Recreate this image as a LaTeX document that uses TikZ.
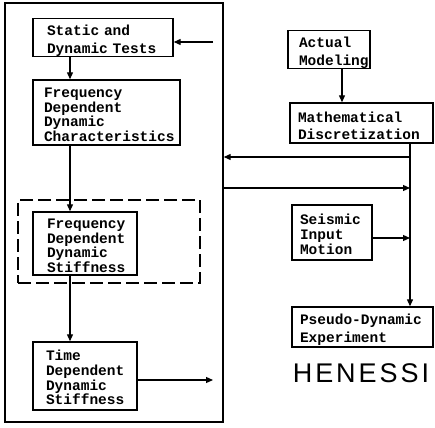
\documentclass[tikz,border=0pt]{standalone}
\usepackage{fontspec}
\usetikzlibrary{arrows.meta}
\newfontfamily\boxfontfam{Liberation Mono}
\newfontfamily\hfont[LetterSpace=11]{Liberation Sans}
\newcommand\dnstrut{\rule{0pt}{17pt}}
\newcommand\dnstrutb{\rule{0pt}{14pt}}
\tikzset{
  bx/.style={draw, line width=1.4pt, align=left, inner ysep=0pt,
    font=\boxfontfam\bfseries\fontsize{14.5}{15}\selectfont},
  arr/.style={line width=1.2pt, -{Triangle[length=7pt,width=6pt]}},
  ln/.style={line width=1.2pt}
}
\begin{document}
\begin{tikzpicture}[x=1pt,y=-1pt]
\useasboundingbox (0,0) rectangle (435,427);
% outer frame
\node[draw, line width=1.4pt, minimum width=218, minimum height=419, inner sep=0pt] (outer) at (114,212.5) {};
% dashed box
\node[draw, line width=1.4pt, dash pattern=on 13pt off 5pt, minimum width=182, minimum height=83, inner sep=0pt] (dash) at (109,241.5) {};
% left boxes
\node[bx, inner xsep=14pt, text width=112pt, minimum width=140, minimum height=35] (b1) at (103,37.5) {\dnstrut Static and\\[3pt]Dynamic Tests};
\node[bx, inner xsep=11pt, text width=125pt, minimum width=147, minimum height=65] (b2) at (106.5,112.5) {\dnstrutb Frequency\\[-0.3pt]Dependent\\[-0.3pt]Dynamic\\[-0.3pt]Characteristics};
\node[bx, inner xsep=14pt, text width=76pt, minimum width=104, minimum height=63] (b3) at (85,243.5) {\dnstrutb Frequency\\[-0.3pt]Dependent\\[-0.3pt]Dynamic\\[-0.3pt]Stiffness};
\node[bx, inner xsep=13pt, text width=78pt, minimum width=104, minimum height=68] (b4) at (85,376) {\dnstrutb Time\\[-0.3pt]Dependent\\[-0.3pt]Dynamic\\[-0.3pt]Stiffness};
% right boxes
\node[bx, inner xsep=11pt, text width=60pt, minimum width=82, minimum height=35] (am) at (329,49.5) {\dnstrut Actual\\[3pt]Modeling};
\node[bx, inner xsep=8pt, text width=127pt, minimum width=143, minimum height=40] (md) at (361.5,123) {\dnstrut Mathematical\\[2pt]Discretization};
\node[bx, inner xsep=8pt, text width=64pt, minimum width=80, minimum height=55] (sm) at (332,232.5) {\dnstrutb Seismic\\Input\\Motion};
\node[bx, inner xsep=8pt, text width=125pt, minimum width=141, minimum height=40] (pd) at (362.5,327) {\dnstrut Pseudo-Dynamic\\[3pt]Experiment};
\node[font=\hfont\fontsize{27}{30}\selectfont, inner sep=0pt] (hen) at (361,373) {HENESSI};
% coordinates
\coordinate (cx) at (70,0);
\coordinate (inA) at (213,42);
\coordinate (outc) at (213,380);
\coordinate (ax) at (342,0);
\coordinate (rx) at (410,0);
\coordinate (j1) at (410,157);
\coordinate (j2) at (410,188);
\coordinate (j3) at (410,238);
% connectors
\draw[arr] (inA) -- (inA -| b1.east);
\draw[arr] (b1.south -| cx) -- (b2.north -| cx);
\draw[arr] (b2.south -| cx) -- (b3.north -| cx);
\draw[arr] (b3.south -| cx) -- (b4.north -| cx);
\draw[arr] (b4.east |- outc) -- (outc);
\draw[arr] (am.south -| ax) -- (md.north -| ax);
\draw[arr] (md.south -| rx) -- (pd.north -| rx);
\draw[arr] (j1) -- (j1 -| outer.east);
\draw[arr] (j2 -| outer.east) -- (j2);
\draw[arr] (sm.east |- j3) -- (j3);
\end{tikzpicture}
\end{document}
